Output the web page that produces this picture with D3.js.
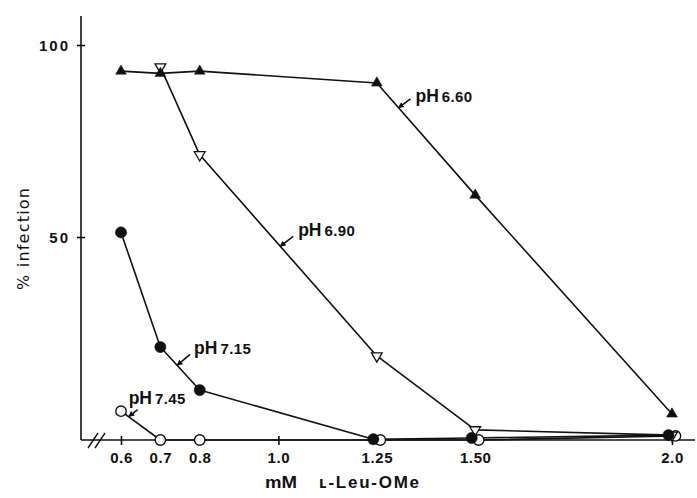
<!DOCTYPE html>
<html><head><meta charset="utf-8">
<script src="https://cdn.jsdelivr.net/npm/d3@7"></script>
<style>html,body{margin:0;padding:0;background:#fff}svg{display:block}</style>
</head><body><svg id="chart" width="697" height="498"></svg>
<script>
// ---------- data ----------
const concentrations = [0.6, 0.7, 0.8, 1.25, 1.5, 2.0];   // mM L-Leu-OMe
const xTickValues = [0.6, 0.7, 0.8, 1.0, 1.25, 1.5, 2.0];
const xTickLabels = ["0.6", "0.7", "0.8", "1.0", "1.25", "1.50", "2.0"];
const yTickValues = [50, 100];
const yTickLabels = ["50", "100"];
const seriesNames = ["pH 6.60", "pH 6.90", "pH 7.15", "pH 7.45"];
const ph660 = [93.2, 92.6, 93.2, 90.1, 60.9, 6.4];
const ph690 = [null, 94.3, 71.4, 20.7, 2.5, 1.2];
const ph715 = [51.2, 22.9, 12.3, 0.2, 0.5, 1.2];
const ph745 = [7.1, 0, 0, 0, 0, 1.0];
const xTitleParts = ["mM", "\u029F-Leu-OMe"];
const yTitle = "% infection";

// ---------- layout ----------
const svg = d3.select("#chart");
const x = d3.scaleLinear().domain([0.6, 2.0]).range([121, 672]);
const y = d3.scaleLinear().domain([0, 50, 100]).range([440, 237, 45]);
const axisX0 = 81, axisY0 = 440;
const ink = "#111";
const font = "Liberation Sans, Arial, sans-serif";

// axes lines
svg.append("line").attr("x1", axisX0).attr("x2", axisX0).attr("y1", 16).attr("y2", axisY0)
  .attr("stroke", ink).attr("stroke-width", 1.6);
svg.append("line").attr("x1", axisX0).attr("x2", 695).attr("y1", axisY0).attr("y2", axisY0)
  .attr("stroke", ink).attr("stroke-width", 1.6);
// axis break marks
[0, 7].forEach(dx => {
  svg.append("line").attr("x1", 88 + dx).attr("y1", 448).attr("x2", 98 + dx).attr("y2", 433)
    .attr("stroke", ink).attr("stroke-width", 1.4);
});

// x axis
const gx = svg.append("g").attr("transform", `translate(0,${axisY0})`)
  .call(d3.axisBottom(x).tickValues(xTickValues).tickFormat((d, i) => xTickLabels[i]).tickSize(5));
gx.select(".domain").remove();
gx.selectAll(".tick line").attr("y1", -4).attr("y2", 5).attr("stroke", ink).attr("stroke-width", 1.6);
gx.selectAll(".tick text").attr("y", 23).attr("dy", null)
  .attr("font-family", font).attr("font-weight", "bold")
  .attr("font-size", 15).attr("letter-spacing", 0.6).attr("fill", ink);

// y axis
const gy = svg.append("g").attr("transform", `translate(${axisX0},0)`)
  .call(d3.axisLeft(y).tickValues(yTickValues).tickFormat((d, i) => yTickLabels[i]).tickSize(4));
gy.select(".domain").remove();
gy.selectAll(".tick line").attr("x1", -4).attr("x2", 4).attr("stroke", ink).attr("stroke-width", 1.6);
gy.selectAll(".tick text").attr("x", -11).attr("dy", "0.36em")
  .attr("font-family", font).attr("font-weight", "bold")
  .attr("font-size", 15).attr("letter-spacing", 2).attr("fill", ink);

// titles
svg.append("text").attr("transform", "translate(29,239) rotate(-90)")
  .attr("text-anchor", "middle").attr("font-family", "DejaVu Sans, sans-serif")
  .attr("font-size", 16).attr("fill", ink)
  .attr("textLength", 102).attr("lengthAdjust", "spacing").text(yTitle);
const xt = svg.append("text").attr("y", 488).attr("font-family", font)
  .attr("font-weight", "bold").attr("font-size", 17).attr("fill", ink);
xt.append("tspan").attr("x", 265).attr("textLength", 32).attr("lengthAdjust", "spacingAndGlyphs").text(xTitleParts[0]);
xt.append("tspan").attr("x", 319).attr("textLength", 100).attr("lengthAdjust", "spacing").text(xTitleParts[1]);

// ---------- series ----------
const seriesValues = [ph660, ph690, ph715, ph745];
const styles = [
  { shape: "triUp",   filled: true },
  { shape: "triDown", filled: false },
  { shape: "circle",  filled: true },
  { shape: "circle",  filled: false }
];
const pts = seriesValues.map(vals => concentrations.map((c, i) => vals[i] == null ? null :
  { px: x(c), py: y(vals[i]), i }));
// dodge overlapping circle markers (filled left, open right)
concentrations.forEach((c, i) => {
  const a = pts[2][i], b = pts[3][i];
  if (a && b && Math.abs(a.py - b.py) < 10) { a.px -= 3.5; b.px += 3.5; }
});

const line = d3.line().x(d => d.px).y(d => d.py);
pts.forEach(p => {
  svg.append("path").attr("d", line(p.filter(d => d)))
    .attr("fill", "none").attr("stroke", ink).attr("stroke-width", 1.6).attr("stroke-linejoin", "round");
});

const triUp = d3.symbol().type(d3.symbolTriangle).size(50)();
const drawOrder = [3, 1, 2, 0];
drawOrder.forEach(si => {
  const st = styles[si];
  const g = svg.append("g");
  pts[si].filter(d => d).forEach(d => {
    if (st.shape === "circle") {
      g.append("circle").attr("cx", d.px).attr("cy", d.py).attr("r", st.filled ? 5.6 : 5.2)
        .attr("fill", st.filled ? ink : "#fff").attr("stroke", ink).attr("stroke-width", st.filled ? 0.5 : 1.4);
    } else {
      g.append("path").attr("d", triUp)
        .attr("transform", `translate(${d.px},${d.py})` + (st.shape === "triDown" ? " rotate(180)" : ""))
        .attr("fill", st.filled ? ink : "#fff").attr("stroke", ink).attr("stroke-width", st.filled ? 0.5 : 1.3);
    }
  });
});

// ---------- labels with arrows ----------
// series index, segment start (concentration index), fraction along segment, arrow vector, text offset from arrow tail
const annotations = [
  { s: 0, seg: 3, t: 0.23, v: [11, -10], off: [5, 3],  num: "6.60" },
  { s: 1, seg: 2, t: 0.46, v: [12, -11], off: [5, 0],  num: "6.90" },
  { s: 2, seg: 1, t: 0.45, v: [12, -12], off: [4, 0],  num: "7.15" },
  { s: 3, seg: 0, t: 0.22, v: [8, -8],   off: [-9, -6], num: "7.45" }
];
const defs = svg.append("defs");
defs.append("marker").attr("id", "ah").attr("viewBox", "0 0 10 10").attr("refX", 9).attr("refY", 5)
  .attr("markerWidth", 6).attr("markerHeight", 6).attr("orient", "auto-start-reverse")
  .attr("markerUnits", "userSpaceOnUse")
  .append("path").attr("d", "M0,0 L10,5 L0,10 z").attr("fill", ink);

annotations.forEach(a => {
  const p0 = pts[a.s][a.seg], p1 = pts[a.s][a.seg + 1];
  const tx = p0.px + (p1.px - p0.px) * a.t, ty = p0.py + (p1.py - p0.py) * a.t;
  const sx = tx + a.v[0], sy = ty + a.v[1];
  svg.append("line").attr("x1", sx).attr("y1", sy).attr("x2", tx - 1).attr("y2", ty - 1)
    .attr("stroke", ink).attr("stroke-width", 1.6).attr("marker-end", "url(#ah)");
  const t = svg.append("text").attr("x", sx + a.off[0]).attr("y", sy + a.off[1])
    .attr("font-family", font).attr("font-weight", "bold").attr("fill", ink);
  t.append("tspan").attr("font-size", 17.5).text("pH");
  t.append("tspan").attr("dx", 3).attr("font-size", 15).attr("letter-spacing", 0.4).text(a.num);
});
</script>
</body></html>
